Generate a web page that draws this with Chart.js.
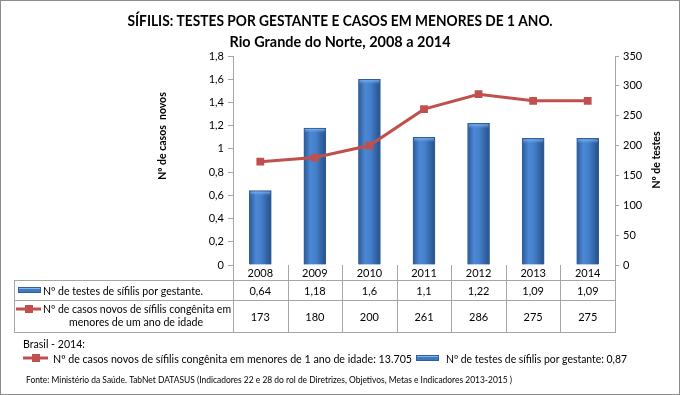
<!DOCTYPE html>
<html>
<head>
<meta charset="UTF-8">
<title>Sífilis - Rio Grande do Norte, 2008 a 2014</title>
<script src="https://cdn.jsdelivr.net/npm/chart.js"></script>
<style>
    html, body { margin: 0; padding: 0; background: #fff; }
    .wrap { position: relative; width: 680px; height: 395px; }
</style>
</head>
<body>
<div class="wrap"><canvas id="chart" width="680" height="395"></canvas></div>
<script>
// Data
const years = ['2008', '2009', '2010', '2011', '2012', '2013', '2014'];
const testsPerPregnant = [0.64, 1.18, 1.6, 1.1, 1.22, 1.09, 1.09];
const newCases = [173, 180, 200, 261, 286, 275, 275];
const testsLabel = 'Nº de testes de sífilis por gestante.';
const casesLabel = ['Nº de casos novos de sífilis congênita em', 'menores de um ano de idade'];
const brasilCasesText = 'Nº de casos novos de sífilis congênita em menores de 1 ano de idade: 13.705';
const brasilTestsText = 'Nº de testes de sífilis por gestante: 0,87';
const sourceText = 'Fonte: Ministério da Saúde. TabNet DATASUS (Indicadores 22 e 28 do rol de Diretrizes, Objetivos, Metas e Indicadores 2013-2015 )';

const FONT = 'Lato, "Open Sans", sans-serif';
const RED = '#c0504d';
const GRID = '#a6a6a6';
const fmt = v => String(v).replace('.', ',');

function barGradient(ctx, x, w) {
    const g = ctx.createLinearGradient(x - w / 2, 0, x + w / 2, 0);
    g.addColorStop(0, '#2b5a98');
    g.addColorStop(0.3, '#4c88d4');
    g.addColorStop(0.55, '#437fcb');
    g.addColorStop(1, '#274f86');
    return g;
}

// the original font (Calibri) is narrower, so stretch/squeeze text to the width it had
function fitText(ctx, text, x, y, width) {
    const sx = width / ctx.measureText(text).width;
    ctx.save();
    ctx.translate(x, y);
    ctx.scale(sx, 1);
    ctx.fillText(text, 0, 0);
    ctx.restore();
}

// lighter caps on the bars
const barCaps = {
    id: 'barCaps',
    afterDatasetsDraw(chart) {
        const ctx = chart.ctx;
        const meta = chart.getDatasetMeta(1);
        ctx.save();
        meta.data.forEach(bar => {
            const g = ctx.createLinearGradient(0, bar.y, 0, bar.y + 5);
            g.addColorStop(0, '#9cc6f5');
            g.addColorStop(1, 'rgba(90,150,225,0)');
            ctx.fillStyle = g;
            ctx.fillRect(bar.x - bar.width / 2 + 1, bar.y + 1, bar.width - 2, 5);
        });
        ctx.restore();
    }
};

// titles, axis titles, data table and footer
const extras = {
    id: 'extras',
    afterDraw(chart) {
        const ctx = chart.ctx;
        const ca = chart.chartArea;
        const xs = chart.scales.x;
        const step = xs.getPixelForValue(1) - xs.getPixelForValue(0);
        ctx.save();
        ctx.fillStyle = '#000';
        ctx.textAlign = 'center';
        ctx.textBaseline = 'middle';

        // title
        ctx.font = 'bold 15px ' + FONT;
        fitText(ctx, 'SÍFILIS: TESTES POR GESTANTE E CASOS EM MENORES DE 1 ANO.', 340, 21, 425);
        fitText(ctx, 'Rio Grande do Norte, 2008 a 2014', 340, 42, 221);

        // axis titles
        ctx.font = 'bold 10.5px ' + FONT;
        ctx.save();
        ctx.translate(163, 136);
        ctx.rotate(-Math.PI / 2);
        ctx.fillText('Nº de casos  novos', 0, 0);
        ctx.restore();
        ctx.save();
        ctx.translate(657, 160);
        ctx.rotate(-Math.PI / 2);
        ctx.fillText('Nº de testes', 0, 0);
        ctx.restore();

        // data table
        const left = 14, top = ca.bottom, r1 = top + 15, r2 = r1 + 20, r3 = r2 + 32;
        ctx.strokeStyle = GRID;
        ctx.lineWidth = 1;
        ctx.beginPath();
        for (let k = 0; k <= years.length; k++) {
            const x = Math.round(ca.left + k * step) + 0.5;
            ctx.moveTo(x, top); ctx.lineTo(x, r3);
        }
        ctx.moveTo(left + 0.5, r1); ctx.lineTo(left + 0.5, r3);
        [r1, r2, r3].forEach(y => {
            ctx.moveTo(left, Math.round(y) + 0.5);
            ctx.lineTo(Math.round(ca.right) + 1, Math.round(y) + 0.5);
        });
        ctx.stroke();

        ctx.font = '11px ' + FONT;
        years.forEach((y, i) => {
            const cx = xs.getPixelForValue(i);
            ctx.fillText(y, cx, (top + r1) / 2 + 1);
            ctx.fillText(fmt(testsPerPregnant[i]), cx, (r1 + r2) / 2 + 1);
            ctx.fillText(String(newCases[i]), cx, (r2 + r3) / 2 + 1);
        });

        // row labels with legend keys
        const blueKey = (x, y) => {
            ctx.fillStyle = '#3f79c2';
            ctx.fillRect(x, y - 3, 23, 6);
            ctx.fillStyle = '#8db4e6';
            ctx.fillRect(x, y - 3, 23, 2);
            ctx.strokeStyle = '#2f5f9c';
            ctx.lineWidth = 1;
            ctx.strokeRect(x + 0.5, y - 2.5, 22, 5);
            ctx.fillStyle = '#000';
        };
        const redKey = (x, y) => {
            ctx.strokeStyle = RED;
            ctx.lineWidth = 3;
            ctx.beginPath(); ctx.moveTo(x, y); ctx.lineTo(x + 25, y); ctx.stroke();
            ctx.fillStyle = RED;
            ctx.fillRect(x + 9, y - 4, 8, 8);
            ctx.fillStyle = '#000';
        };
        blueKey(18, (r1 + r2) / 2);
        redKey(16, r2 + 9);
        ctx.textAlign = 'left';
        fitText(ctx, testsLabel, 43, (r1 + r2) / 2 + 1, 160);
        fitText(ctx, casesLabel[0], 43, r2 + 9.5, 188);
        fitText(ctx, casesLabel[1], 69, r2 + 22.5, 134);

        // footer
        ctx.font = '11.5px ' + FONT;
        fitText(ctx, 'Brasil - 2014:', 23, 344, 62);
        redKey(23, 358);
        fitText(ctx, brasilCasesText, 53, 359, 359);
        blueKey(416, 358);
        fitText(ctx, brasilTestsText, 446, 359, 181);
        ctx.font = '9px ' + FONT;
        fitText(ctx, sourceText, 26, 380, 486);

        // frame
        ctx.strokeStyle = '#8c8c8c';
        ctx.lineWidth = 1;
        ctx.strokeRect(0.5, 0.5, 679, 394);
        ctx.restore();
    }
};

new Chart(document.getElementById('chart'), {
    type: 'bar',
    data: {
        labels: years,
        datasets: [{
            type: 'line',
            label: casesLabel.join(' '),
            data: newCases,
            yAxisID: 'y2',
            borderColor: RED,
            backgroundColor: RED,
            borderWidth: 3,
            pointStyle: 'rect',
            pointRadius: 5.5,
            pointBorderWidth: 0,
            tension: 0,
            order: 0
        }, {
            label: testsLabel,
            data: testsPerPregnant,
            yAxisID: 'y',
            barThickness: 22,
            borderColor: '#2f5f9c',
            borderWidth: 1,
            backgroundColor: c => {
                const chart = c.chart;
                if (!chart.chartArea || c.type !== 'data') return '#3f79c2';
                return barGradient(chart.ctx, chart.scales.x.getPixelForValue(c.dataIndex), 22);
            },
            order: 1
        }]
    },
    options: {
        responsive: false,
        animation: false,
        devicePixelRatio: 1,
        layout: { padding: { left: 0, right: 0, top: 56, bottom: 130 } },
        plugins: { legend: { display: false }, tooltip: { enabled: false } },
        scales: {
            x: { display: false, offset: true },
            y: {
                position: 'left',
                min: 0, max: 1.8,
                afterFit: s => { s.width = 233; },
                border: { color: GRID },
                grid: { drawOnChartArea: false, tickLength: 5, color: GRID },
                ticks: {
                    stepSize: 0.2,
                    color: '#000',
                    font: { family: FONT, size: 11 },
                    padding: 4,
                    callback: v => fmt(Math.round(v * 10) / 10)
                }
            },
            y2: {
                position: 'right',
                min: 0, max: 350,
                afterFit: s => { s.width = 65; },
                border: { color: GRID },
                grid: { drawOnChartArea: false, tickLength: 4, color: GRID },
                ticks: {
                    stepSize: 50,
                    color: '#000',
                    font: { family: FONT, size: 11 },
                    padding: 4
                }
            }
        }
    },
    plugins: [barCaps, extras]
});
</script>
</body>
</html>
